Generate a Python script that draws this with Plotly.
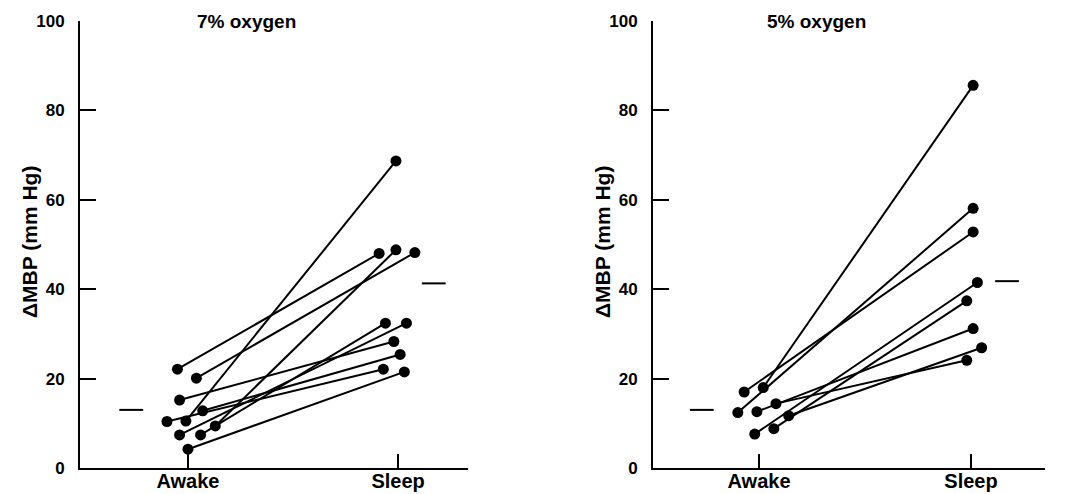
import plotly.graph_objects as go

# ---------------- data ----------------
categories = ["Awake", "Sleep"]
panel_titles = ["7% oxygen", "5% oxygen"]
y_title = "ΔMBP (mm Hg)"
y_ticks = [0, 20, 40, 60, 80, 100]

# 7% oxygen: one entry per subject (awake -> sleep)
o7_awake = [22.1, 20.1, 15.2, 10.4, 10.5, 12.8, 7.4, 7.4, 9.4, 4.2]
o7_sleep = [48.0, 48.2, 28.3, 22.1, 68.7, 25.4, 32.4, 32.4, 48.8, 21.5]
o7_awake_jitter = [-0.05, 0.04, -0.04, -0.10, -0.01, 0.07, -0.04, 0.06, 0.13, 0.0]
o7_sleep_jitter = [-0.09, 0.08, -0.02, -0.07, -0.01, 0.01, 0.04, -0.06, -0.01, 0.03]
o7_means = [13.0, 41.3]

# 5% oxygen
o5_awake = [17.0, 18.0, 12.4, 12.6, 14.4, 11.7, 7.6, 8.8]
o5_sleep = [52.8, 85.6, 58.1, 31.2, 24.1, 26.9, 41.5, 37.4]
o5_awake_jitter = [-0.07, 0.02, -0.10, -0.01, 0.08, 0.14, -0.02, 0.07]
o5_sleep_jitter = [0.01, 0.01, 0.01, 0.01, -0.02, 0.05, 0.03, -0.02]
o5_means = [13.0, 41.8]

# ---------------- figure ----------------
W, H = 1072, 494
FONT = "Liberation Sans"
fig = go.Figure()

panels = [
    dict(awake=o7_awake, sleep=o7_sleep, ja=o7_awake_jitter, js=o7_sleep_jitter,
         means=o7_means, xa="x", ya="y"),
    dict(awake=o5_awake, sleep=o5_sleep, ja=o5_awake_jitter, js=o5_sleep_jitter,
         means=o5_means, xa="x2", ya="y2"),
]

mean_offsets = [-0.27, 0.17]

for p in panels:
    for a, s, ja, js in zip(p["awake"], p["sleep"], p["ja"], p["js"]):
        fig.add_trace(go.Scatter(
            x=[0 + ja, 1 + js], y=[a, s], mode="lines+markers",
            line=dict(color="black", width=2),
            marker=dict(color="black", size=11),
            xaxis=p["xa"], yaxis=p["ya"], showlegend=False, hoverinfo="skip",
            cliponaxis=False,
        ))
    fig.add_trace(go.Scatter(
        x=[i + off for i, off in enumerate(mean_offsets)], y=p["means"], mode="markers",
        marker=dict(symbol="line-ew", size=17, color="black",
                    line=dict(color="black", width=2)),
        xaxis=p["xa"], yaxis=p["ya"], showlegend=False, hoverinfo="skip",
        cliponaxis=False,
    ))

ydom = [(494 - 468) / H, (494 - 21) / H]
x_doms = [[80 / W, 468 / W], [653 / W, 1045 / W]]
x_ranges = [[-0.514, 1.333], [-0.5, 1.349]]

common_x = dict(
    tickmode="array", tickvals=[0, 1], ticktext=categories,
    showline=True, linecolor="black", linewidth=2,
    ticks="inside", ticklen=14, tickwidth=2, tickcolor="black",
    showgrid=False, zeroline=False, automargin=False,
    tickfont=dict(family=FONT, size=20, color="black", weight="bold"),
    ticklabelstandoff=-6,
)
common_y = dict(
    range=[0, 100], tickmode="array", tickvals=y_ticks,
    showline=True, linecolor="black", linewidth=2,
    ticks="inside", ticklen=16, tickwidth=2, tickcolor="black",
    showgrid=False, zeroline=False, automargin=False,
    tickfont=dict(family=FONT, size=17, color="black", weight="bold"),
    ticklabelstandoff=10,
)

fig.update_layout(
    width=W, height=H,
    margin=dict(l=0, r=0, t=0, b=0),
    paper_bgcolor="white", plot_bgcolor="white",
    xaxis=dict(domain=x_doms[0], range=x_ranges[0], anchor="y", **common_x),
    yaxis=dict(domain=ydom, anchor="x", **common_y),
    xaxis2=dict(domain=x_doms[1], range=x_ranges[1], anchor="y2", **common_x),
    yaxis2=dict(domain=ydom, anchor="x2", **common_y),
)

title_x = [246 / W, 816 / W]
ylab_x = [30 / W, 603 / W]
for i in range(2):
    fig.add_annotation(text=panel_titles[i], xref="paper", yref="paper",
                       x=title_x[i], y=(494 - 22) / H, showarrow=False,
                       xanchor="center", yanchor="middle",
                       font=dict(family=FONT, size=19, color="black", weight="bold"))
    fig.add_annotation(text=y_title, xref="paper", yref="paper",
                       x=ylab_x[i], y=(494 - 242) / H, showarrow=False, textangle=-90,
                       xanchor="center", yanchor="middle",
                       font=dict(family=FONT, size=21, color="black", weight="bold"))

fig.write_html("out.html")
